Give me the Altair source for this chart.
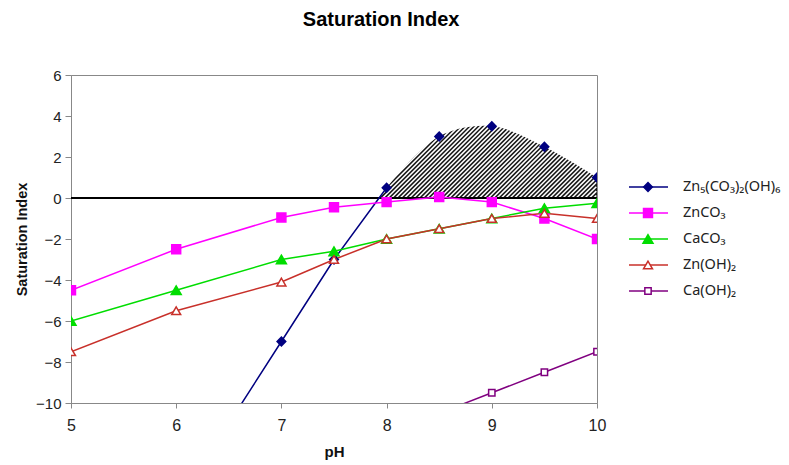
import altair as alt
import pandas as pd
import numpy as np

# ---------------- data ----------------
ph = [5, 6, 7, 7.5, 8, 8.5, 9, 9.5, 10]
znco3 = [-4.5, -2.5, -0.95, -0.45, -0.2, 0.05, -0.2, -1.0, -2.0]
caco3 = [-6.0, -4.5, -3.0, -2.6, -2.0, -1.5, -1.0, -0.5, -0.25]
znoh2 = [-7.5, -5.5, -4.1, -3.0, -2.0, -1.5, -1.0, -0.75, -1.0]
zn5_ph = [6.5, 7, 7.5, 8, 8.5, 9, 9.5, 10]
zn5 = [-11.0, -7.0, -3.0, 0.5, 3.0, 3.5, 2.5, 1.0]
caoh2_ph = [8.5, 9, 9.5, 10]
caoh2 = [-10.5, -9.5, -8.5, -7.5]
hatch_ph = [7.93, 8, 8.5, 9, 9.5, 10]
hatch_si = [0.0, 0.5, 3.0, 3.5, 2.5, 1.0]

series_keys = ["Zn5", "ZnCO3", "CaCO3", "ZnOH2", "CaOH2"]
series_labels = ["Zn₅(CO₃)₂(OH)₆", "ZnCO₃", "CaCO₃", "Zn(OH)₂", "Ca(OH)₂"]
x_ticks = [5, 6, 7, 8, 9, 10]
y_ticks = [-10, -8, -6, -4, -2, 0, 2, 4, 6]

# ---------------- styles ----------------
line_colors = ["#000080", "#FF00FF", "#00DD00", "#C8302A", "#800080"]
fill_colors = ["#000080", "#FF00FF", "#00DD00", "#FFFFFF", "#FFFFFF"]
shapes = ["diamond", "square", "triangle-up", "triangle-up", "square"]
sizes = [75, 80, 100, 80, 40]

W, H = 526, 328
XMIN, XMAX, YMIN, YMAX = 5, 10, -10, 6

rows = []
for k, xs, ys in [("Zn5", zn5_ph, zn5), ("ZnCO3", ph, znco3), ("CaCO3", ph, caco3),
                  ("ZnOH2", ph, znoh2), ("CaOH2", caoh2_ph, caoh2)]:
    for a, b in zip(xs, ys):
        rows.append({"series": k, "ph": a, "si": b})
df = pd.DataFrame(rows)
hatch_df = pd.DataFrame({"ph": hatch_ph, "si": hatch_si})
leg_df = pd.DataFrame({"series": series_keys, "label": series_labels})

# hatch: white 45-degree strokes laid over a dark area (white on white elsewhere)
px_x = W / (XMAX - XMIN)
px_y = H / (YMAX - YMIN)
step = 4.4 / px_x
ytop = 4.2
dx = ytop * px_y / px_x
xlim = XMAX - 0.7 / px_x
hr = []
for x0 in np.arange(7.0, xlim, step):
    x1 = x0 + dx
    y1 = ytop
    if x1 > xlim:
        y1 = (xlim - x0) * px_x / px_y
        x1 = xlim
    hr.append({"ph": x0, "si": 0.0, "ph2": x1, "si2": y1})
hr_df = pd.DataFrame(hr)

stroke_scale = alt.Scale(domain=series_keys, range=line_colors)
fill_scale = alt.Scale(domain=series_keys, range=fill_colors)
shape_scale = alt.Scale(domain=series_keys, range=shapes)
size_scale = alt.Scale(type="ordinal", domain=series_keys, range=sizes)

X = alt.X("ph:Q", scale=alt.Scale(domain=[XMIN, XMAX], nice=False, zero=False),
          axis=alt.Axis(values=x_ticks, format="d", title="pH", grid=False,
                        labelFlush=False,
                        labelFontSize=16, titleFontSize=15, titleFontWeight="bold",
                        labelPadding=9, titlePadding=11, tickSize=5))
Y = alt.Y("si:Q", scale=alt.Scale(domain=[YMIN, YMAX], nice=False, zero=False),
          axis=alt.Axis(values=y_ticks, title="Saturation Index", grid=False,
                        labelFlush=False,
                        labelFontSize=15, titleFontSize=14.5, titleFontWeight="bold",
                        labelPadding=4, titlePadding=6, tickSize=6))

area = alt.Chart(hatch_df).mark_area(interpolate="catmull-rom", color="#151515").encode(
    x=X, y=Y, y2=alt.datum(0))

hatch_rules = alt.Chart(hr_df).mark_rule(color="white", strokeWidth=1.6, clip=True).encode(
    x=X, y=Y, x2="ph2:Q", y2="si2:Q")

zero = alt.Chart(hatch_df).mark_rule(color="black", strokeWidth=1.5).encode(y=alt.datum(0))

lines = alt.Chart(df).transform_filter(
    "datum.series != 'Zn5' || datum.ph <= 8").mark_line(strokeWidth=1.5, clip=True).encode(
    x=X, y=Y, detail="series:N",
    stroke=alt.Stroke("series:N", scale=stroke_scale, legend=None))

points = alt.Chart(df).transform_filter("datum.si >= -10").mark_point(
    strokeWidth=1.5, opacity=1, fillOpacity=1, clip=True).encode(
    x=X, y=Y,
    stroke=alt.Stroke("series:N", scale=stroke_scale, legend=None),
    fill=alt.Fill("series:N", scale=fill_scale, legend=None),
    shape=alt.Shape("series:N", scale=shape_scale, legend=None),
    size=alt.Size("series:N", scale=size_scale, legend=None))

main = alt.layer(area, hatch_rules, zero, lines, points).properties(width=W, height=H)

LY = alt.Y("series:N", scale=alt.Scale(type="point", domain=series_keys, range=[112, 216],
                                       padding=0), axis=None)
leg_line = alt.Chart(leg_df).mark_rule(strokeWidth=1.5).encode(
    y=LY, x=alt.value(10), x2=alt.value(49),
    stroke=alt.Stroke("series:N", scale=stroke_scale, legend=None))
leg_pt = alt.Chart(leg_df).mark_point(strokeWidth=1.5, opacity=1, fillOpacity=1).encode(
    y=LY, x=alt.value(29),
    stroke=alt.Stroke("series:N", scale=stroke_scale, legend=None),
    fill=alt.Fill("series:N", scale=fill_scale, legend=None),
    shape=alt.Shape("series:N", scale=shape_scale, legend=None),
    size=alt.Size("series:N", scale=size_scale, legend=None))
leg_txt = alt.Chart(leg_df).mark_text(align="left", baseline="middle", font="Noto Sans",
                                      fontSize=14.5, color="#222").encode(
    y=LY, x=alt.value(64), text="label:N")
legend = alt.layer(leg_line, leg_pt, leg_txt).properties(
    width=100, height=H, view=alt.ViewBackground(strokeOpacity=0))

chart = alt.hconcat(main, legend, spacing=12).resolve_scale(
    x="independent", y="independent").properties(
    title=alt.TitleParams("Saturation Index", fontSize=20, font="Liberation Sans",
                          fontWeight="bold", anchor="middle", offset=38, dx=-16),
    padding={"left": 6, "top": 1, "right": 0, "bottom": 0}
).configure_view(stroke="#888888").configure_axis(
    labelFont="Liberation Sans", titleFont="Liberation Sans", labelColor="#222",
    titleColor="#111", domainColor="#888888", tickColor="#888888")

chart.save("out.html", embed_options={"renderer": "svg", "actions": False})
